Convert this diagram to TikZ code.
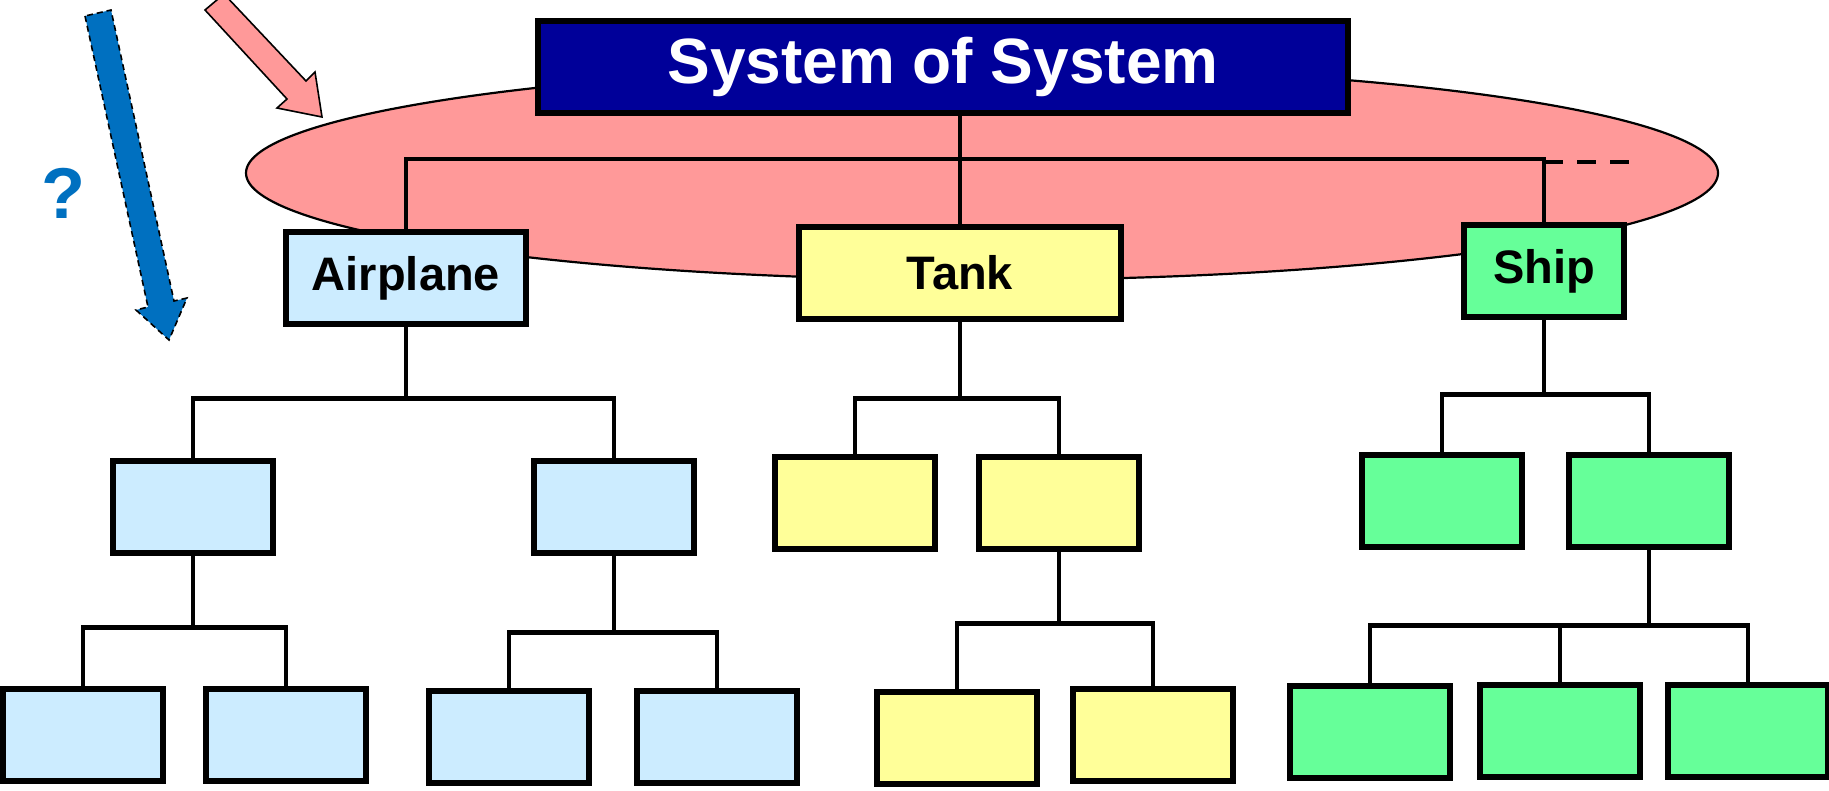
\documentclass[tikz,border=0pt]{standalone}
\usepackage{fontspec}
\setmainfont{Liberation Sans}
\usetikzlibrary{shapes.geometric}
\definecolor{halopink}{HTML}{FF9999}
\definecolor{sosblue}{HTML}{000099}
\definecolor{airblue}{HTML}{CCECFF}
\definecolor{tankyellow}{HTML}{FFFF99}
\definecolor{shipgreen}{HTML}{66FF99}
\definecolor{arrowblue}{HTML}{0070C0}

\begin{document}
\begin{tikzpicture}[x=0.5pt, y=-0.5pt,
every edge/.style = {draw=black, line width=2.4pt},
  link/.style = {draw=black, line width=2.4pt},
branch/.style = {to path={-- ++(0,#1) -| (\tikztotarget)}},
branch/.default = 72,
 sys/.style args = {#1/#2}{%
      rectangle, draw, line width=2.8pt, fill=#1,
      minimum width=#2, minimum height=46pt,
      font=\bfseries\fontsize{23.5}{26}\selectfont}
                    ]
\useasboundingbox (0,0) rectangle (1829,791);
% the system-of-systems layer
\node (halo) [ellipse, draw, line width=1.1pt, fill=halopink,
              minimum width=736pt, minimum height=107pt] at (982,173) {};
% arrows on the left
\filldraw[fill=arrowblue, draw=black, line width=0.8pt, dash pattern=on 3pt off 2pt]
    (85,16) -- (148,307) -- (136,310) -- (169,340)
    -- (187,298) -- (174,301) -- (111,10) -- cycle;
\node (ask) [text=arrowblue, font=\bfseries\fontsize{36}{40}\selectfont] at (63,193) {?};
\filldraw[fill=halopink, draw=black, line width=0.8pt]
    (205,10) -- (287,99) -- (277,108) -- (322,117)
    -- (315,72) -- (306,81) -- (224,-6) -- cycle;
% top and first level
\node(SoS)  [sys=sosblue/405pt, text=white,
             font=\bfseries\fontsize{32}{36}\selectfont] at (943,67) {System of System};
\node(Air)  [sys=airblue/120pt]    at (406,278) {Airplane};
\node(Tank) [sys=tankyellow/161pt] at (960,273) {Tank};
\node(Ship) [sys=shipgreen/80pt]   at (1544,271) {Ship};
% second level
\node(A1) [sys=airblue/80pt]    at (193,507) {};
\node(A2) [sys=airblue/80pt]    at (614,507) {};
\node(T1) [sys=tankyellow/80pt] at (855,503) {};
\node(T2) [sys=tankyellow/80pt] at (1059,503) {};
\node(S1) [sys=shipgreen/80pt]  at (1442,501) {};
\node(S2) [sys=shipgreen/80pt]  at (1649,501) {};
% third level
\node(A1a) [sys=airblue/80pt]    at (83,735) {};
\node(A1b) [sys=airblue/80pt]    at (286,735) {};
\node(A2a) [sys=airblue/80pt]    at (509,737) {};
\node(A2b) [sys=airblue/80pt]    at (717,737) {};
\node(T2a) [sys=tankyellow/80pt] at (957,738) {};
\node(T2b) [sys=tankyellow/80pt] at (1153,735) {};
\node(S2a) [sys=shipgreen/80pt]  at (1370,732) {};
\node(S2b) [sys=shipgreen/80pt]  at (1560,731) {};
\node(S2c) [sys=shipgreen/80pt]  at (1748,731) {};
%
\coordinate (hub)  at (960,159);
\coordinate (more) at (1631,162);
\draw[link] (SoS.south -| hub) -- (Tank.north);
\draw[link] (Air.north) |- (hub) -| (Ship.north);
\draw[link, dash pattern=on 9.5pt off 7pt] (Ship.north |- more) -- (more);
%
\path   (Air.south)  edge[branch] (A1.north)
        (Air.south)  edge[branch] (A2.north)
        (Tank.south) edge[branch=77] (T1.north)
        (Tank.south) edge[branch=77] (T2.north)
        (Ship.south) edge[branch=75] (S1.north)
        (Ship.south) edge[branch=75] (S2.north);
\path   (A1.south) edge[branch] (A1a.north)
        (A1.south) edge[branch] (A1b.north)
        (A2.south) edge[branch=77] (A2a.north)
        (A2.south) edge[branch=77] (A2b.north)
        (T2.south) edge[branch] (T2a.north)
        (T2.south) edge[branch] (T2b.north)
        (S2.south) edge[branch=76] (S2a.north)
        (S2.south) edge[branch=76] (S2b.north)
        (S2.south) edge[branch=76] (S2c.north);
\end{tikzpicture}
\end{document}
